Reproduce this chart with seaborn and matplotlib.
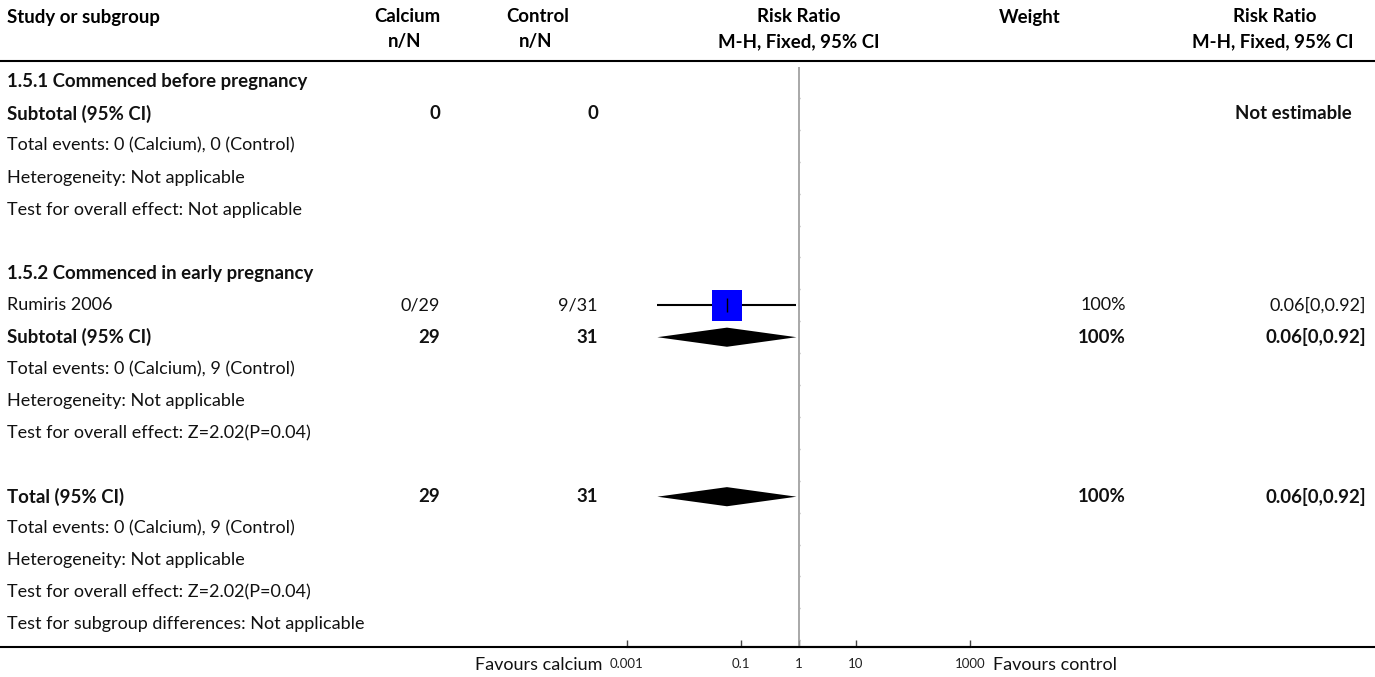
import numpy as np
import seaborn as sns
import matplotlib.pyplot as plt
import pandas as pd

sns.set_theme(style="white")
plt.rcParams['font.family'] = ['Lato', 'DejaVu Sans']

# table rows
row_labels = ["1.5.1 Commenced before pregnancy", "Subtotal (95% CI)",
              "Total events: 0 (Calcium), 0 (Control)", "Heterogeneity: Not applicable",
              "Test for overall effect: Not applicable", "",
              "1.5.2 Commenced in early pregnancy", "Rumiris 2006", "Subtotal (95% CI)",
              "Total events: 0 (Calcium), 9 (Control)", "Heterogeneity: Not applicable",
              "Test for overall effect: Z=2.02(P=0.04)", "",
              "Total (95% CI)", "Total events: 0 (Calcium), 9 (Control)",
              "Heterogeneity: Not applicable", "Test for overall effect: Z=2.02(P=0.04)",
              "Test for subgroup differences: Not applicable"]
row_bold = [True, True, False, False, False, False, True, False, True,
            False, False, False, False, True, False, False, False, False]
calcium_col = ["", "0", "", "", "", "", "", "0/29", "29", "", "", "", "", "29", "", "", "", ""]
control_col = ["", "0", "", "", "", "", "", "9/31", "31", "", "", "", "", "31", "", "", "", ""]
weight_col = ["", "", "", "", "", "", "", "100%", "100%", "", "", "", "", "100%", "", "", "", ""]
rr_col = ["", "Not estimable", "", "", "", "", "", "0.06[0,0.92]", "0.06[0,0.92]",
          "", "", "", "", "0.06[0,0.92]", "", "", "", ""]

# study estimates
study_row = [7]
study_rr = [0.056]
study_lo = [0.0034]
study_hi = [0.92]

# pooled estimates (diamonds)
pooled_row = [8, 13]
pooled_rr = [0.056, 0.056]
pooled_lo = [0.0034, 0.0034]
pooled_hi = [0.92, 0.92]

tick_vals = [0.001, 0.1, 1, 10, 1000]
tick_labels = ["0.001", "0.1", "1", "10", "1000"]

W, H = 1375, 677
fig = plt.figure(figsize=(W / 100, H / 100), dpi=100)

# text layer in pixel coords
tx = fig.add_axes([0, 0, 1, 1])
tx.set_xlim(0, W)
tx.set_ylim(H, 0)
tx.axis('off')

fs = 13.0
fsb = 13.4
y0, dy = 82, 31.9

def rowy(i):
    return y0 + dy * i

hdr = dict(fontsize=fsb, fontweight='bold', va='center', color='black')
tx.text(7, 17, "Study or subgroup", ha='left', **hdr)
tx.text(407, 17, "Calcium", ha='center', **hdr)
tx.text(405, 42, "n/N", ha='center', **hdr)
tx.text(538, 17, "Control", ha='center', **hdr)
tx.text(536, 42, "n/N", ha='center', **hdr)
tx.text(799, 17, "Risk Ratio", ha='center', **hdr)
tx.text(799, 42, "M-H, Fixed, 95% CI", ha='center', **hdr)
tx.text(1030, 17, "Weight", ha='center', **hdr)
tx.text(1275, 17, "Risk Ratio", ha='center', **hdr)
tx.text(1273, 42, "M-H, Fixed, 95% CI", ha='center', **hdr)
tx.plot([0, W], [61, 61], color='black', lw=1.5)
tx.plot([0, W], [647, 647], color='black', lw=1.5)

for i, lab in enumerate(row_labels):
    y = rowy(i)
    bold = row_bold[i]
    kw = dict(fontsize=fsb if bold else fs, fontweight='bold' if bold else 'normal',
              va='center', color='#111111')
    tx.text(7, y, lab, ha='left', **kw)
    tx.text(440, y, calcium_col[i], ha='right', **kw)
    tx.text(598, y, control_col[i], ha='right', **kw)
    tx.text(1126, y, weight_col[i], ha='right', **kw)
    right = 1352 if rr_col[i] == "Not estimable" else 1366
    tx.text(right, y, rr_col[i], ha='right', **kw)

tx.text(602, 665, "Favours calcium", ha='right', va='center', fontsize=fs, color='#111111')
tx.text(993, 665, "Favours control", ha='left', va='center', fontsize=fs, color='#111111')

# forest panel
top_px, bot_px = 67, 647
ax = fig.add_axes([627 / W, (H - bot_px) / H, 343 / W, (bot_px - top_px) / H])
ax.set_xscale('log')
ax.set_xlim(0.001, 1000)
ax.set_ylim((bot_px - y0) / dy, (top_px - y0) / dy)
ax.patch.set_alpha(0)

ax.axvline(1, color='#999999', lw=1.2, zorder=1)
bounds = np.arange(len(row_labels)) + 0.5
ax.hlines(bounds, 1, 1.08, color='#aaaaaa', lw=1, zorder=1)

ax.hlines(study_row, study_lo, study_hi, color='black', lw=1.5, zorder=2)
df = pd.DataFrame({'rr': study_rr, 'row': study_row})
sns.scatterplot(data=df, x='rr', y='row', marker='s', s=480, color='#0000ff',
                edgecolor='none', ax=ax, zorder=3, legend=False)
ax.vlines(study_rr, np.array(study_row) - 0.22, np.array(study_row) + 0.22,
          color='black', lw=1, zorder=4)

for r, m, lo, hi in zip(pooled_row, pooled_rr, pooled_lo, pooled_hi):
    ax.fill([lo, m, hi, m], [r, r - 0.3, r, r + 0.3], color='black', lw=0, zorder=3)

ax.set_xticks(tick_vals)
ax.set_xticklabels(tick_labels)
ax.minorticks_off()
ax.tick_params(axis='x', direction='in', length=5, width=1, color='#444444',
               labelsize=9.5, labelcolor='#222222', pad=8, bottom=True)
ax.set_yticks([])
ax.set_xlabel('')
ax.set_ylabel('')
sns.despine(ax=ax, left=True, top=True, right=True)
ax.spines['bottom'].set_color('black')
ax.spines['bottom'].set_linewidth(1.5)

fig.savefig('out.png', dpi=100)
